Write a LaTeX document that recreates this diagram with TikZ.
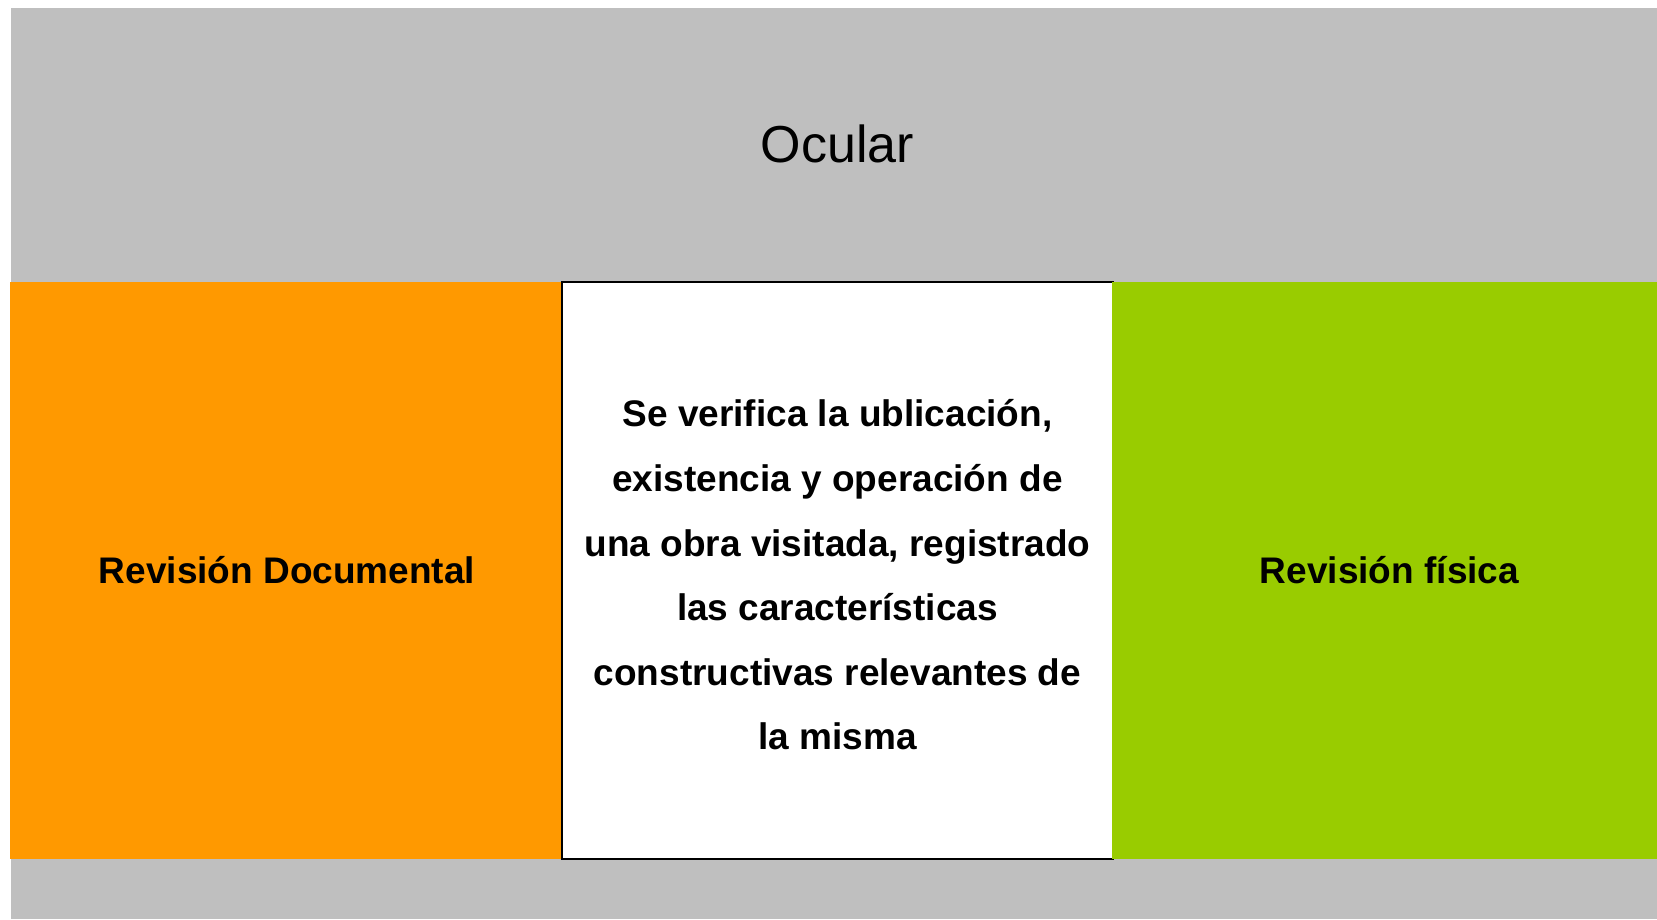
\documentclass[tikz,border=0pt]{standalone}
\usepackage{fontspec}
\setmainfont{Liberation Sans}
\usepackage{xcolor}
\usepackage{tikz}
\definecolor{band}{HTML}{BFBFBF}
\definecolor{docorange}{HTML}{FF9900}
\definecolor{fisgreen}{HTML}{99CC00}
\tikzset{
  panel/.style={draw=none, inner sep=0pt, minimum height=577pt},
  midpanel/.style={fill=white, draw=black, line width=2pt, inner sep=0pt,
    minimum width=551pt, minimum height=576pt},
  midtext/.style={align=center, inner sep=0pt,
    font=\bfseries\fontsize{37}{64.6}\selectfont},
  lab/.style={font=\bfseries\fontsize{37}{44}\selectfont},
}

\begin{document}
\begin{tikzpicture}[x=1pt,y=1pt]
  \useasboundingbox (0,0) rectangle (1657,919);
  \fill[band] (11,0) rectangle (1657,911);
  \node[lab] (ocular) at (837.5,775) {\mdseries\fontsize{52}{60}\selectfont Ocular};
  \node[panel, fill=docorange, minimum width=552pt] (doc) at (286,348.5) {};
  \node[lab] (doclab) at ([xshift=1pt]doc.center) {Revisión Documental};
  \node[midpanel] (verif) at (837.5,348.5) {};
  \node[midtext] (veriflab) at ([yshift=-4.5pt]verif.center) {Se verifica la ublicación,\\
    existencia y operación de\\
    una obra visitada, registrado\\
    las características\\
    constructivas relevantes de\\
    la misma};
  \node[panel, fill=fisgreen, minimum width=545pt] (fis) at (1384.5,348.5) {};
  \node[lab] (fislab) at ([xshift=5pt]fis.center) {Revisión física};
\end{tikzpicture}
\end{document}
